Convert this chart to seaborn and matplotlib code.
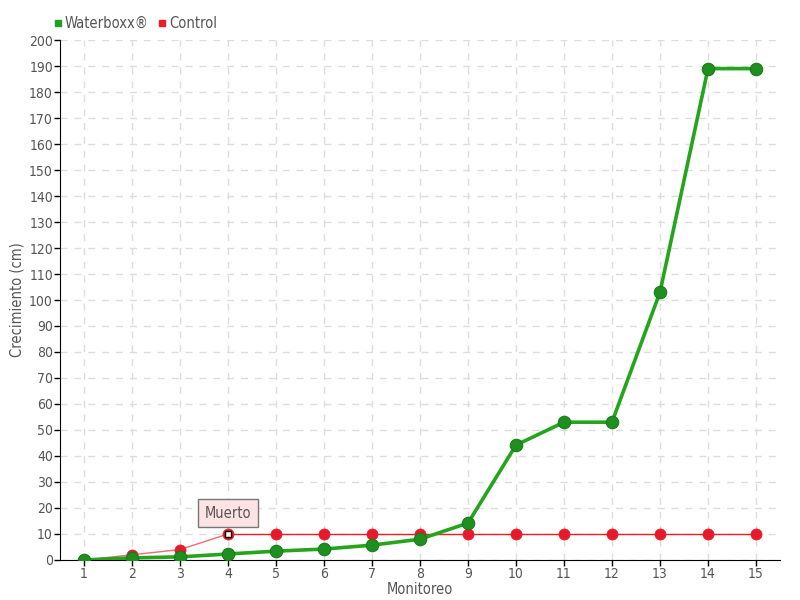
import pandas as pd
import numpy as np
import matplotlib.pyplot as plt
import seaborn as sns

# values
monitoreo = list(range(1, 16))
waterboxx = [0, 0.8, 1.2, 2.3, 3.4, 4.2, 5.7, 8, 14.2, 44.2, 53, 53, 103, 189, 189]
control = [0, 2, 4, 10, 10, 10, 10, 10, 10, 10, 10, 10, 10, 10, 10]
y_ticks = list(range(0, 201, 10))

df = pd.DataFrame({'Monitoreo': monitoreo, 'Waterboxx': waterboxx, 'Control': control})

sns.set_style('white')
plt.rcParams['font.family'] = ['DejaVu Sans']
plt.rcParams['font.stretch'] = 'condensed'
text_color = '#555555'

fig = plt.figure(figsize=(8, 6), dpi=100)
ax = fig.add_axes([0.075, 0.0667, 0.9, 0.8666])

# Control series: faded segment up to the death point, solid afterwards
sns.lineplot(data=df.iloc[:4], x='Monitoreo', y='Control', ax=ax, color='#f46a70',
             linewidth=1, zorder=2)
sns.lineplot(data=df.iloc[3:], x='Monitoreo', y='Control', ax=ax, color='#ee1c25',
             linewidth=1, zorder=2)
sns.scatterplot(data=df, x='Monitoreo', y='Control', ax=ax, color='#e8192c',
                s=64, edgecolor='#ee1c25', linewidth=0.5, zorder=3)

sns.lineplot(data=df, x='Monitoreo', y='Waterboxx', ax=ax, color='#24a51c',
             linewidth=2.6, marker='o', markersize=9, markeredgecolor='#167a16',
             markerfacecolor='#1f901f', zorder=4)

# "Muerto" annotation on the control series
ax.plot([monitoreo[3]], [control[3]], marker='s', markersize=5,
        markerfacecolor='white', markeredgecolor='black', zorder=6)
ax.annotate('Muerto', xy=(monitoreo[3], control[3]), xytext=(0, 15),
            textcoords='offset points', ha='center', va='center',
            fontsize=10.5, color=text_color, zorder=7,
            bbox=dict(boxstyle='square,pad=0.45', fc='#fde3e3', ec='#777777', lw=1))

ax.set_xlim(0.5, 15.5)
ax.set_ylim(0, 200)
ax.set_xticks(monitoreo)
ax.set_yticks(y_ticks)
ax.tick_params(axis='both', colors='black', labelcolor=text_color, labelsize=10,
               direction='out', length=4, width=1, left=True, bottom=True)
ax.tick_params(axis='x', pad=1)
ax.tick_params(axis='y', pad=1)
ax.grid(True, linestyle=(0, (5, 5)), color='#dddddd', linewidth=1)
ax.set_axisbelow(True)
sns.despine(ax=ax)
ax.spines['left'].set_color('black')
ax.spines['bottom'].set_color('black')

ax.set_xlabel('Monitoreo', color=text_color, fontsize=10.5)
ax.set_ylabel('Crecimiento (cm)', color=text_color, fontsize=10.5)
ax.xaxis.set_label_coords(0.5, -0.043)
ax.yaxis.set_label_coords(-0.049, 0.5)

# legend at the top left
handles = [plt.Line2D([], [], linestyle='none', marker='s', markersize=5, color='#1fa01f'),
           plt.Line2D([], [], linestyle='none', marker='s', markersize=5, color='#ee1c25')]
fig.legend(handles, ['Waterboxx®', 'Control'], loc='upper left', bbox_to_anchor=(0.05, 0.995),
           ncol=2, frameon=False, handlelength=0.6, handletextpad=0.2, columnspacing=0.6,
           labelcolor=text_color, fontsize=10.5)

fig.savefig('out.png', dpi=100)
